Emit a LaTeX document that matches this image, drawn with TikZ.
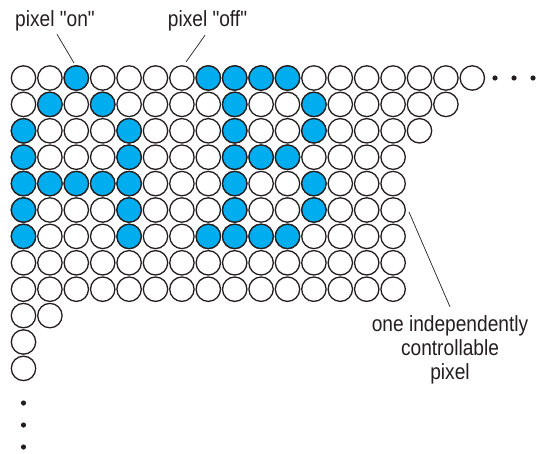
\documentclass[tikz,border=0pt]{standalone}
\usepackage{fontspec}
\setmainfont[FakeStretch=0.87,Ligatures=TeXOff]{Liberation Sans}
\usepackage{tikz}
\usetikzlibrary{calc}
\definecolor{pixblue}{RGB}{0,174,239}
\definecolor{inkgray}{RGB}{35,31,32}

\begin{document}
\begin{tikzpicture}[x=1pt,y=-1pt,
  pixoff/.style={circle,draw=inkgray,line width=1.3pt,fill=white,minimum size=24.4pt,inner sep=0pt},
  pixon/.style={draw=inkgray,line width=1.3pt,fill=pixblue},
  leader/.style={draw=inkgray,line width=0.7pt},
  lbl/.style={font=\fontsize{22}{24}\selectfont,text=inkgray,inner sep=0pt},
  moredot/.style={fill=inkgray}]
  \useasboundingbox (0,0) rectangle (537,454);
  % grid of pixels, row/length
  \foreach \r/\n in {1/18,2/17,3/16,4/15,5/15,6/15,7/15,8/15,9/15,10/2,11/1,12/1}
    \foreach \c in {1,...,\n}
      \node[pixoff] (p-\r-\c) at ({23.5+26.4*(\c-1)},{78+26.4*(\r-1)}) {};
  % pixels that are on
  \foreach \r/\c in {1/3,1/8,1/9,1/10,1/11,2/2,2/4,2/9,2/12,3/1,3/5,3/9,3/12,
      4/1,4/5,4/9,4/10,4/11,5/1,5/2,5/3,5/4,5/5,5/9,5/12,6/1,6/5,6/9,6/12,
      7/1,7/5,7/8,7/9,7/10,7/11}
    \draw[pixon] (p-\r-\c) circle[radius=12.2];
  % labels
  \node[lbl,anchor=base] (onlbl) at (55,26.5) {pixel "on"};
  \node[lbl,anchor=base] (offlbl) at (207.5,26.5) {pixel "off"};
  \node[lbl,align=center,anchor=base] (onelbl) at (450,379) {one independently\\controllable\\pixel};
  % leader lines
  \coordinate (onTip) at (74,63);
  \coordinate (offTip) at (186,62);
  \draw[leader] ($(onlbl.south)+(2,3)$) -- (onTip);
  \draw[leader] ($(offlbl.south)+(-2.5,4)$) -- (offTip);
  \draw[leader] ($(p-6-15.east)+(3,2)$) -- ($(onelbl.north)+(0,-8)$);
  % continuation dots
  \foreach \x in {495,514,533} \fill[moredot] (\x,78) circle[radius=2.6];
  \foreach \y in {403,425,447} \fill[moredot] (23.5,\y) circle[radius=2.6];
\end{tikzpicture}
\end{document}
